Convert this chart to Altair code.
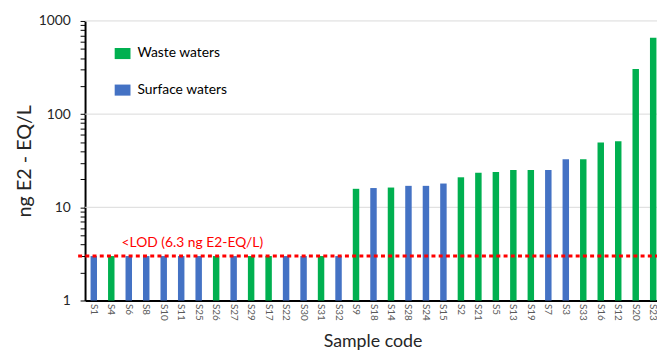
import altair as alt
import pandas as pd

samples = ["S1", "S4", "S6", "S8", "S10", "S11", "S25", "S26", "S27", "S29", "S17",
           "S22", "S30", "S31", "S32", "S9", "S18", "S14", "S28", "S24", "S15", "S2",
           "S21", "S5", "S13", "S19", "S7", "S3", "S33", "S16", "S12", "S20", "S23"]
values = [3.0, 3.0, 3.0, 3.0, 3.0, 3.0, 3.0, 3.0, 3.0, 3.0, 3.0,
          3.0, 3.0, 3.0, 3.0, 15.8, 16.1, 16.3, 17.0, 17.0, 18.0, 21.0,
          23.5, 23.9, 25.1, 25.1, 25.1, 32.8, 32.8, 49.7, 51.2, 305, 662]
W, S = "Waste waters", "Surface waters"
types = [S, W, S, S, S, S, S, W, S, W, W,
         S, S, W, S, W, S, W, S, S, S, W,
         W, W, W, W, S, S, W, W, W, W, W]
categories = [W, S]
colors = ["#00B050", "#4472C4"]
grid_values = [10, 100, 1000]
y_ticks = [1, 2, 3, 4, 5, 6, 7, 8, 9, 10, 20, 30, 40, 50, 60, 70, 80, 90,
           100, 200, 300, 400, 500, 600, 700, 800, 900, 1000]
lod_value = 3.0
lod_label = "<LOD (6.3 ng E2-EQ/L)"

FONT = "Lato"
PW, PH = 584, 283

df = pd.DataFrame({"sample": samples, "value": values, "type": types})
grid_df = pd.DataFrame({"value": grid_values})

yscale = alt.Scale(type="log", domain=[1, 1000], nice=False)

yaxis = alt.Axis(title="ng E2 - EQ/L", values=y_ticks,
                 labelExpr="indexof([1,10,100,1000], datum.value) >= 0 ? datum.value : ''",
                 labelFont=FONT, labelFontSize=14, labelColor="#262626",
                 labelPadding=10, tickSize=5, tickColor="black", tickWidth=1,
                 domainColor="black", domainWidth=2, grid=False,
                 titleFont=FONT, titleFontSize=20, titleFontWeight="normal",
                 titleColor="#262626", titleAngle=-90, titleX=-61,
                 titleY=PH / 2, titleBaseline="middle", titleAlign="center")

grid = alt.Chart(grid_df).mark_rule(color="#d9d9d9", strokeWidth=1).encode(
    y=alt.Y("value:Q", scale=yscale, axis=yaxis),
    x=alt.value(0), x2=alt.value(PW),
)

bars = alt.Chart(df).mark_bar().encode(
    x=alt.X("sample:N", sort=samples,
            scale=alt.Scale(paddingInner=0.63, paddingOuter=0.315),
            axis=alt.Axis(title="Sample code", labelAngle=90, labelAlign="left",
                          labelBaseline="middle", labelFont=FONT, labelFontSize=10,
                          labelColor="#595959", labelPadding=3, ticks=False,
                          domainColor="black", domainWidth=2,
                          titleFont=FONT, titleFontSize=18, titleFontWeight="normal",
                          titleColor="#262626", titleBaseline="top", titleY=33,
                          titleX=291)),
    y=alt.Y("value:Q", scale=yscale, axis=yaxis),
    y2=alt.datum(1),
    color=alt.Color("type:N", scale=alt.Scale(domain=categories, range=colors),
                    legend=alt.Legend(orient="none", legendX=30, legendY=25, title=None,
                                      symbolType="M-1,-0.7H1V0.7H-1Z", symbolSize=256,
                                      symbolStrokeWidth=0, symbolOpacity=1,
                                      labelFont=FONT, labelFontSize=14, labelColor="#000000",
                                      rowPadding=22, labelOffset=7, padding=0)),
)

lod_df = pd.DataFrame({"value": [lod_value], "label": [lod_label]})
lod = alt.Chart(lod_df).mark_rule(color="#FF0000", strokeWidth=3, strokeDash=[4, 3.3]).encode(
    y=alt.Y("value:Q", scale=yscale, axis=yaxis),
    x=alt.value(-7), x2=alt.value(PW),
)
lod_text = alt.Chart(lod_df).mark_text(color="#FF0000", font=FONT, fontSize=14,
                                       align="left", baseline="alphabetic", dy=-9).encode(
    y=alt.Y("value:Q", scale=yscale, axis=yaxis),
    x=alt.value(37),
    text="label:N",
)

chart = alt.layer(grid, bars, lod, lod_text).properties(
    width=PW, height=PH,
    autosize=alt.AutoSizeParams(type="none"),
    padding={"left": 78, "top": 11, "right": -5, "bottom": 48},
    background="white",
).configure_view(stroke=None)

chart.save("out.html", embed_options={"renderer": "svg", "actions": False})
